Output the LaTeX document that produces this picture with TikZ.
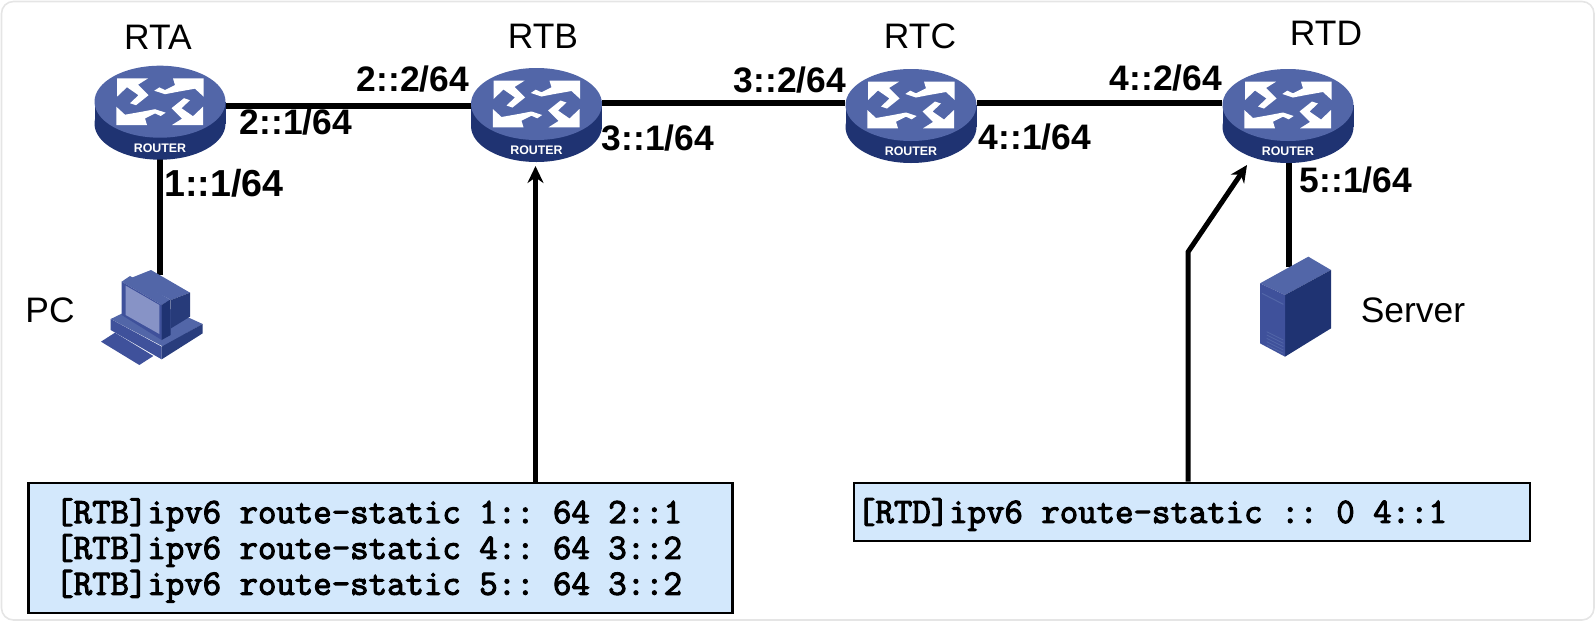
\documentclass[tikz,border=0pt]{standalone}
\usepackage{fontspec}
\setmainfont{Liberation Sans}
\setsansfont{Liberation Sans}
\setmonofont[BoldFont=*,BoldFeatures={FakeBold=3}]{Latin Modern Mono}
\usetikzlibrary{calc,arrows.meta}

\definecolor{icontop}{HTML}{5266A8}
\definecolor{iconside}{HTML}{1F3372}
\definecolor{iconmid}{HTML}{3F519B}
\definecolor{iconscreen}{HTML}{8793C6}
\definecolor{cmdfill}{HTML}{D3E8FC}

\tikzset{
  routerbox/.style={minimum width=65.5pt,minimum height=47.5pt,inner sep=0pt},
  hostbox/.style={minimum width=50pt,minimum height=#1,inner sep=0pt},
  link/.style={line width=2.8pt},
  pointer/.style={line width=2.5pt,-{Stealth[length=8.5pt,width=8pt]},line join=round},
  devlabel/.style={font=\fontsize{17.7}{20}\selectfont},
  addr/.style={font=\fontsize{17.7}{20}\selectfont\bfseries},
  cmdbox/.style={draw,fill=cmdfill,line width=1.4pt,align=flush left,inner ysep=0pt,
    font=\fontsize{17.9}{17.9}\selectfont\ttfamily\bfseries\frenchspacing,
    execute at end node=\par\vspace{-2.5pt}},
  arrowshape/.pic={
    \fill[white] (-43,-23.3) -- (-12,-23.3) -- (-22,-17) -- (-11.5,-6.5) -- (-24,3.5)
      -- (-30,1.5) -- (-21.5,-6.5) -- (-33,-14.5) -- (-43,-5) -- cycle;
    \fill[white] (43.7,-23.3) -- (43.7,-5) -- (35,-13) -- (18,-10) -- (5,-7.5)
      -- (-5.7,-11) -- (-0.7,-14.3) -- (5,-11.7) -- (15,-16.7) -- (13,-23.3) -- cycle;
  },
  routericon/.pic={
    \fill[iconside] (0,22) ellipse [x radius=65.5,y radius=36];
    \fill[iconside] (-65.5,0) rectangle (65.5,22);
    \fill[icontop] (0,0) ellipse [x radius=65.5,y radius=36];
    \pic at (0,0) {arrowshape};
    \pic[rotate=180] at (0,0) {arrowshape};
    \node[text=white,font=\fontsize{6.2}{7}\selectfont\bfseries] (-router) at (0,46.5) {ROUTER};
  },
  pcicon/.pic={
    \begin{scope}[scale=1/3,shift={(-240,-195)}]
    % base
    \fill[icontop] (92,207) -- (210,150) -- (368,222) -- (250,290) -- cycle;
    \fill[iconmid] (92,207) -- (245,290) -- (245,328) -- (92,240) -- cycle;
    \fill[iconside!80!icontop] (245,290) -- (368,222) -- (368,250) -- (245,328) -- cycle;
    % keyboard
    \fill[iconmid] (63,275) -- (178,345) -- (220,318) -- (105,248) -- cycle;
    % monitor
    \fill[icontop] (150,85) -- (213,60) -- (330,128) -- (273,150) -- cycle;
    \fill[iconside!85!icontop] (273,150) -- (330,128) -- (330,200) -- (273,235) -- cycle;
    \fill[icontop] (125,95) -- (150,78) -- (272,150) -- (245,165) -- cycle;
    \fill[iconmid] (125,95) -- (245,165) -- (245,270) -- (125,195) -- cycle;
    \fill[iconside] (245,165) -- (272,148) -- (272,255) -- (245,270) -- cycle;
    \fill[iconscreen] (137,107) -- (238,165) -- (238,252) -- (137,195) -- cycle;
    \end{scope}
  },
  servericon/.pic={
    \begin{scope}[scale=1/3,shift={(-117,-156)}]
    \fill[icontop] (30,70) -- (175,-10) -- (243,30) -- (105,105) -- cycle;
    \fill[iconside] (105,105) -- (243,30) -- (243,205) -- (105,290) -- cycle;
    \fill[iconmid] (30,70) -- (105,105) -- (105,290) -- (30,250) -- cycle;
    \draw[icontop,line width=0.5pt] (36,100) -- (100,133);
    \foreach \y in {215,225,235,245,255}
      \draw[icontop,line width=0.4pt] (50,\y) -- (100,\y+25);
    \end{scope}
  },
}

\begin{document}
\begin{tikzpicture}[x=0.5pt,y=-0.5pt]
\useasboundingbox (0,0) rectangle (1596,622);
\draw[black!10,line width=0.8pt,rounded corners=6pt] (1.5,1.5) rectangle (1594,620);

\node[routerbox] (rta) at (160,106) {};
\node[routerbox] (rtb) at (536.5,103) {};
\node[routerbox] (rtc) at (911,103) {};
\node[routerbox] (rtd) at (1288,103) {};
\node[hostbox=40pt] (pc) at (160,315) {};
\node[hostbox=45pt] (server) at (1289,312) {};

\node[cmdbox,text width=325.5pt,inner xsep=13.25pt,minimum height=65pt] (cmdb) at (380.75,548) {%
{[RTB]}ipv6 route-static 1:: 64 2::1\\
{[RTB]}ipv6 route-static 4:: 64 3::2\\
{[RTB]}ipv6 route-static 5:: 64 3::2};
\node[cmdbox,text width=335pt,inner xsep=1.5pt,minimum height=29pt] (cmdd) at (1192,512) {%
{[RTD]}ipv6 route-static :: 0 4::1};

\coordinate (tipb) at (535.5,166);
\coordinate (bendd) at (1188,252);
\coordinate (tipd) at (1247,165);

\draw[link] (rta) -- (rta -| rtb.west);
\draw[link] (rtb) -- (rtc);
\draw[link] (rtc) -- (rtd);
\draw[link] (rta) -- (pc);
\draw[link] (rtd.south -| server) -- (server);

\draw[pointer] (cmdb.north -| tipb) -- (tipb);
\draw[pointer] (cmdd.north -| bendd) -- (bendd) -- (tipd);

\pic at ($(rta)+(0,-4.3)$) {routericon};
\pic at ($(rtb)+(0,1)$) {routericon};
\pic at ($(rtc)+(0,2)$) {routericon};
\pic at ($(rtd)+(0,2)$) {routericon};
\pic at (pc) {pcicon};
\pic at (server) {servericon};

\node[devlabel] (rtalabel) at (158,37) {RT{}A};
\node[devlabel] (rtblabel) at (543,36) {RTB};
\node[devlabel] (rtclabel) at (920,36) {RTC};
\node[devlabel] (rtdlabel) at (1326,33) {RTD};
\node[devlabel] (pclabel) at (50,310) {PC};
\node[devlabel] (serverlabel) at (1413,310) {Server};

\node[addr] (a22) at (413,79) {2::2/64};
\node[addr] (a21) at (296,122) {2::1/64};
\node[addr] (a32) at (790,80) {3::2/64};
\node[addr] (a31) at (658,138) {3::1/64};
\node[addr] (a42) at (1166,78) {4::2/64};
\node[addr] (a41) at (1035,137) {4::1/64};
\node[addr,font=\fontsize{18.8}{20}\selectfont\bfseries] (a11) at (224,183) {1::1/64};
\node[addr] (a51) at (1356,180) {5::1/64};

\end{tikzpicture}
\end{document}
